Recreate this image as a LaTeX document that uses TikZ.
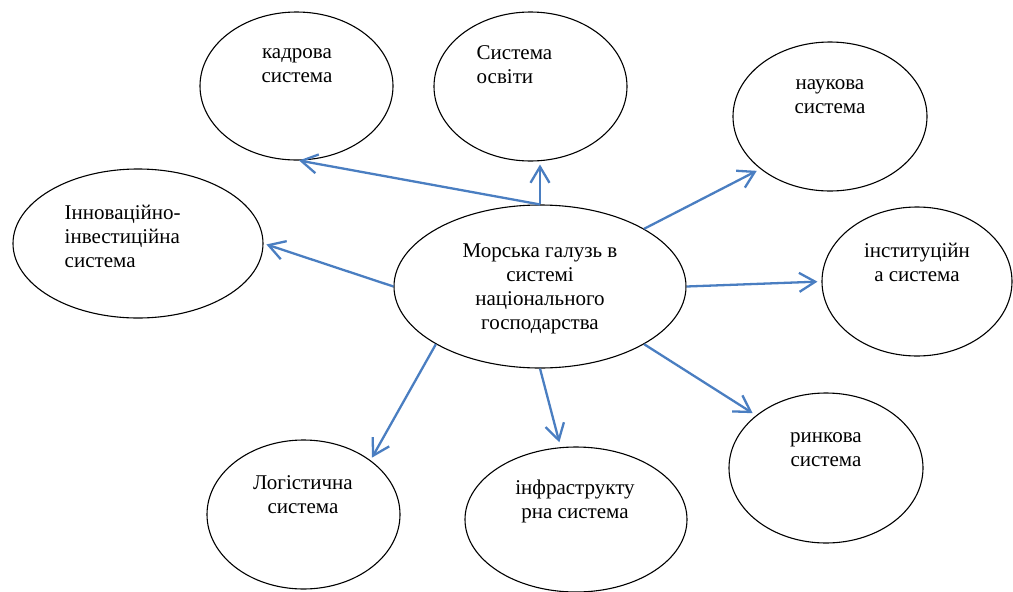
\documentclass[tikz,border=0pt]{standalone}
\usepackage{fontspec}
\setmainfont{Liberation Serif}
\usetikzlibrary{shapes.geometric,arrows.meta}
\definecolor{arrblue}{RGB}{74,126,193}
\tikzset{
  oval/.style={ellipse,draw=black,line width=1.1pt,inner sep=0pt},
  lbl/.style={inner sep=0pt,font=\fontsize{21}{24}\selectfont},
  arr/.style={draw=arrblue,line width=2.3pt,-{Straight Barb[length=16pt,width=19pt]}}
}
\begin{document}
\begin{tikzpicture}[x=1pt,y=-1pt]
\useasboundingbox (0,0) rectangle (1013,592);
% ellipses
\node[oval,minimum width=193pt,minimum height=148pt] (kadr) at (296.5,86) {};
\node[oval,minimum width=193pt,minimum height=149pt] (osv) at (530.5,86.5) {};
\node[oval,minimum width=194pt,minimum height=149pt] (nauk) at (830,116.5) {};
\node[oval,minimum width=250pt,minimum height=149pt] (inn) at (138,243.5) {};
\node[oval,minimum width=292pt,minimum height=163pt] (c) at (540,286.5) {};
\node[oval,minimum width=190pt,minimum height=149pt] (inst) at (917,281.5) {};
\node[oval,minimum width=194pt,minimum height=150pt] (rynk) at (826,468) {};
\node[oval,minimum width=193pt,minimum height=149pt] (log) at (303.5,514.5) {};
\node[oval,minimum width=222pt,minimum height=145pt] (infra) at (576,519.5) {};
% texts
\node[lbl,align=center] (tkadr) at (297,66) {кадрова\\система};
\node[lbl,align=left,anchor=west] (tosv) at (476.5,65) {Система\\освіти};
\node[lbl,align=center] (tnauk) at (830,97) {наукова\\система};
\node[lbl,align=left,anchor=west] (tinn) at (64.5,236.5) {Інноваційно-\\інвестиційна\\система};
\node[lbl,align=center] (tc) at (540,288.5) {Морська галузь в\\системі\\національного\\господарства};
\node[lbl,align=center] (tinst) at (917,262) {інституційн\\а система};
\node[lbl,align=center] (trynk) at (826,449.5) {ринкова\\система};
\node[lbl,align=center] (tlog) at (303,495) {Логістична\\система};
\node[lbl,align=center] (tinfra) at (575,501.5) {інфраструкту\\рна система};
% arrows
\draw[arr] (c.90) -- (kadr.272);
\draw[arr,shorten >=3pt] (c.90) -- (c.90 |- osv.south);
\draw[arr,shorten >=4pt] (c.29) -- (nauk.217);
\draw[arr,shorten >=4pt] (c.0) -- (inst.west);
\draw[arr,shorten >=4pt] (c.-29) -- (rynk.143);
\draw[arr,shorten >=5pt] (c.-90) -- (infra.102);
\draw[arr,shorten >=3pt] (c.209) -- (log.39);
\draw[arr,shorten >=3pt] (c.180) -- (inn.east);
\end{tikzpicture}
\end{document}
